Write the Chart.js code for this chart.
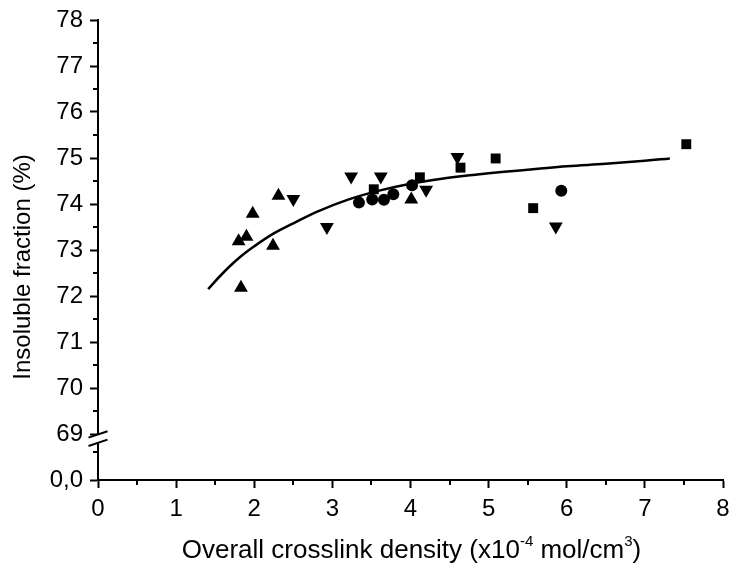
<!DOCTYPE html>
<html><head><meta charset="utf-8">
<script src="https://cdn.jsdelivr.net/npm/chart.js@4.4.1/dist/chart.umd.min.js"></script>
<style>html,body{margin:0;padding:0;background:#fff;}</style>
</head><body>
<canvas id="c" width="731" height="569"></canvas>
<script>
// ---- data ----
const xTickValues = [0,1,2,3,4,5,6,7,8];
const yTickValues = [68,69,70,71,72,73,74,75,76,77,78];
const yTickLabels = ['0,0','69','70','71','72','73','74','75','76','77','78'];
const xMinorTicks = [0.5,1.5,2.5,3.5,4.5,5.5,6.5,7.5];
const yMinorTicks = [68.6,69.5,70.5,71.5,72.5,73.5,74.5,75.5,76.5,77.5];

const squareX = [3.53,4.12,4.64,5.09,5.57,7.53];
const squareY = [74.32,74.58,74.79,74.99,73.91,75.30];
const circleX = [3.34,3.51,3.66,3.78,4.02,5.93];
const circleY = [74.03,74.10,74.09,74.21,74.41,74.29];
const upTriX = [1.80,1.90,1.98,1.83,2.31,2.24,4.01];
const upTriY = [73.19,73.29,73.79,72.18,74.18,73.09,74.10];
const downTriX = [2.50,2.93,3.24,3.62,4.20,4.60,5.86];
const downTriY = [74.11,73.50,74.60,74.60,74.31,75.02,73.51];
const fitX = [1.41,1.60,1.80,2.00,2.25,2.50,2.83,3.21,3.60,4.00,4.40,4.80,5.20,5.60,6.00,6.50,7.00,7.32];
const fitY = [72.15,72.50,72.82,73.08,73.36,73.58,73.85,74.10,74.29,74.44,74.55,74.63,74.70,74.76,74.82,74.875,74.94,74.99];

const FONT = '"Liberation Sans", Arial, sans-serif';
const pts = (xs, ys) => xs.map((x, i) => ({x, y: ys[i]}));
const noPad = () => ({left: 0, right: 0, top: 0, bottom: 0});

Chart.defaults.color = '#000';
Chart.defaults.font.family = FONT;

const extras = {
  id: 'extras',
  afterDraw(chart) {
    const ctx = chart.ctx, xs = chart.scales.x, ys = chart.scales.y;
    const a = chart.chartArea;
    ctx.save();
    ctx.strokeStyle = '#000';
    ctx.lineWidth = 2;
    // minor ticks
    xMinorTicks.forEach(v => {
      const p = Math.round(xs.getPixelForValue(v));
      ctx.beginPath(); ctx.moveTo(p, a.bottom); ctx.lineTo(p, a.bottom + 5); ctx.stroke();
    });
    yMinorTicks.forEach(v => {
      const p = Math.round(ys.getPixelForValue(v));
      ctx.beginPath(); ctx.moveTo(a.left, p); ctx.lineTo(a.left - 5, p); ctx.stroke();
    });
    // axis break
    const yc = ys.getPixelForValue(68.9);
    const L = a.left;
    ctx.fillStyle = '#fff';
    ctx.beginPath();
    ctx.moveTo(L - 9.5, yc - 4.2 + 3.2); ctx.lineTo(L + 9.5, yc - 4.2 - 3.2);
    ctx.lineTo(L + 9.5, yc + 4.2 - 3.2); ctx.lineTo(L - 9.5, yc + 4.2 + 3.2);
    ctx.closePath(); ctx.fill();
    [-4.2, 4.2].forEach(o => {
      ctx.beginPath();
      ctx.moveTo(L - 9.5, yc + o + 3.2);
      ctx.lineTo(L + 9.5, yc + o - 3.2);
      ctx.stroke();
    });
    // axis titles
    ctx.fillStyle = '#000';
    ctx.textBaseline = 'middle';
    ctx.save();
    ctx.translate(23, 267);
    ctx.rotate(-Math.PI / 2);
    ctx.textAlign = 'center';
    ctx.font = '24px ' + FONT;
    ctx.fillText('Insoluble fraction (%)', 0, 0);
    ctx.restore();
    const parts = [
      ['Overall crosslink density (x10', false],
      ['-4', true],
      [' mol/cm', false],
      ['3', true],
      [')', false]
    ];
    const big = '26px ' + FONT, small = '15px ' + FONT;
    let w = 0;
    parts.forEach(([t, sup]) => { ctx.font = sup ? small : big; w += ctx.measureText(t).width; });
    let x = 411.5 - w / 2;
    const ty = 551;
    ctx.textAlign = 'left';
    parts.forEach(([t, sup]) => {
      ctx.font = sup ? small : big;
      ctx.fillText(t, x, sup ? ty - 9 : ty);
      x += ctx.measureText(t).width;
    });
    ctx.restore();
  }
};

new Chart(document.getElementById('c'), {
  type: 'scatter',
  data: {
    datasets: [
      { label: 'fit', data: pts(fitX, fitY), showLine: true, borderColor: '#000', borderWidth: 2.5,
        pointRadius: 0, tension: 0.4, fill: false },
      { label: 'sq', data: pts(squareX, squareY), pointStyle: 'rect', pointRadius: 7,
        backgroundColor: '#000', borderWidth: 0 },
      { label: 'ci', data: pts(circleX, circleY), pointStyle: 'circle', pointRadius: 6,
        backgroundColor: '#000', borderWidth: 0 },
      { label: 'up', data: pts(upTriX, upTriY), pointStyle: 'triangle', pointRadius: 8,
        backgroundColor: '#000', borderWidth: 0 },
      { label: 'down', data: pts(downTriX, downTriY), pointStyle: 'triangle', pointRadius: 8,
        pointRotation: 180, backgroundColor: '#000', borderWidth: 0 }
    ]
  },
  options: {
    responsive: false,
    animation: false,
    events: [],
    layout: { padding: { top: 20, right: 4, left: 0, bottom: 0 } },
    plugins: { legend: { display: false }, tooltip: { enabled: false } },
    scales: {
      x: {
        type: 'linear', min: 0, max: 8,
        afterBuildTicks: s => { s.ticks = xTickValues.map(v => ({value: v})); },
        afterFit: s => { s.height = 89; s.getPadding = noPad; },
        grid: { drawOnChartArea: false, drawTicks: true, tickLength: 8, tickWidth: 2, tickColor: '#000' },
        border: { display: true, color: '#000', width: 2 },
        ticks: { font: { size: 24, family: FONT }, color: '#000', padding: 7, maxRotation: 0 }
      },
      y: {
        type: 'linear', min: 68, max: 78,
        afterBuildTicks: s => { s.ticks = yTickValues.map(v => ({value: v})); },
        afterFit: s => { s.width = 98; s.getPadding = noPad; },
        grid: { drawOnChartArea: false, drawTicks: true, tickLength: 8, tickWidth: 2, tickColor: '#000' },
        border: { display: true, color: '#000', width: 2 },
        ticks: { font: { size: 24, family: FONT }, color: '#000', padding: 7,
          callback: (v) => { const i = yTickValues.indexOf(v); return i >= 0 ? yTickLabels[i] : ''; } }
      }
    }
  },
  plugins: [extras]
});
</script>
</body></html>
